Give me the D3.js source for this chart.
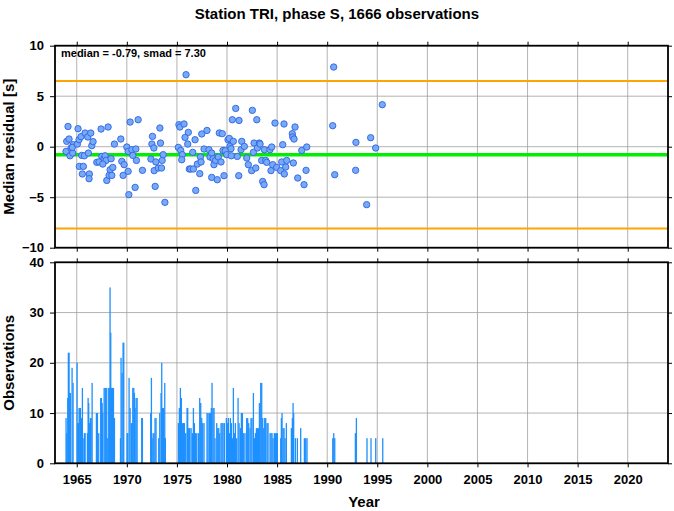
<!DOCTYPE html>
<html><head><meta charset="utf-8">
<script src="https://cdn.jsdelivr.net/npm/d3@7"></script>
<style>body{margin:0;background:#fff}svg{display:block}text{font-family:"Liberation Sans",Arial,Helvetica,sans-serif;font-weight:bold}</style>
</head><body>
<script>
const title = "Station TRI, phase S, 1666 observations";
const medianValue = -0.79, smadValue = 7.30;
const yearTicks = [1965,1970,1975,1980,1985,1990,1995,2000,2005,2010,2015,2020];
const residTicks = [-10,-5,0,5,10];
const countTicks = [0,10,20,30,40];

const ptYears = [1964.13,1964.0,1964.23,1963.93,1964.33,1964.43,1964.6,1964.66,1964.56,1965.13,1965.06,1965.23,1965.43,1965.26,1965.5,1965.66,1965.76,1965.56,1965.83,1966.1,1966.16,1966.26,1966.23,1966.4,1966.5,1966.63,1967.0,1967.43,1967.23,1967.5,1967.73,1968.0,1968.13,1967.83,1967.93,1967.6,1968.33,1968.23,1968.5,1968.43,1968.6,1968.76,1969.4,1969.5,1969.63,1969.73,1970.0,1970.13,1970.2,1970.33,1970.13,1970.5,1970.6,1970.83,1970.9,1970.96,1971.13,1971.56,1972.4,1972.56,1972.5,1972.7,1972.73,1972.83,1972.9,1973.15,1973.3,1973.36,1973.46,1973.53,1973.63,1973.8,1975.2,1975.3,1975.14,1975.38,1975.54,1975.48,1975.71,1975.81,1975.91,1976.14,1976.08,1976.24,1976.38,1976.58,1976.64,1976.81,1976.88,1977.04,1977.28,1977.34,1977.41,1977.48,1977.71,1978.0,1978.2,1978.3,1978.47,1978.47,1978.63,1978.7,1978.87,1979.03,1979.13,1979.23,1979.4,1979.53,1979.6,1979.7,1979.83,1979.97,1980.1,1980.23,1980.3,1980.4,1980.43,1980.53,1980.63,1980.87,1981.03,1981.17,1981.2,1981.4,1981.47,1981.73,1981.97,1982.13,1982.53,1982.46,1982.63,1982.7,1982.87,1982.97,1983.03,1983.23,1983.3,1983.46,1983.56,1983.7,1983.73,1983.86,1983.96,1984.29,1984.46,1984.39,1984.56,1984.79,1984.96,1985.36,1985.46,1985.56,1985.69,1985.72,1985.86,1985.96,1986.52,1986.56,1986.62,1986.69,1986.79,1987.06,1987.46,1987.69,1987.89,1987.96,1990.55,1990.75,1990.65,1995.5,1992.87,1994.34,1994.84,1992.84,1993.94];
const ptResid = [2.0,0.53,0.76,-0.47,-0.9,-0.13,-0.63,0.2,-0.07,1.78,0.26,0.7,1.0,-1.95,-0.86,-1.95,-0.9,-2.7,1.35,0.96,-0.63,-2.7,-3.17,1.35,0.1,0.5,-1.55,1.75,-1.5,-0.96,-1.19,-3.34,1.95,-0.9,-1.36,-1.72,-2.28,-2.84,-2.84,-1.19,-2.05,0.26,0.76,-1.45,-2.84,-1.78,-0.03,-0.47,-4.75,2.44,-2.44,-0.3,-0.86,-4.03,-0.23,-1.36,2.67,-2.34,-1.22,1.02,0.26,-0.13,-2.37,-3.93,-1.51,-2.11,1.85,0.36,-2.11,-1.36,-0.79,-5.51,2.18,1.95,-0.07,-0.37,-0.79,-1.29,2.25,0.92,7.13,1.42,0.26,-2.21,-2.21,-0.56,-2.21,0.69,-4.33,-1.72,-2.67,-1.02,-1.51,1.26,-0.23,1.61,-0.3,-1.02,-0.63,-3.04,-1.19,-1.78,-1.36,-3.27,-1.02,1.36,-1.51,1.29,-0.37,-2.87,-0.4,-0.79,0.69,0.82,0.03,-0.2,-0.9,2.67,0.53,3.79,-0.96,-2.87,2.6,-0.3,0.53,0.03,-1.12,-1.78,3.6,-2.37,-0.56,0.36,-2.11,2.67,-0.13,0.36,0.26,-1.36,-3.44,-3.76,-0.3,-1.36,-1.55,-0.3,-0.03,-2.37,-1.78,2.34,-2.05,-2.37,-1.51,0.2,2.25,-2.7,-2.01,-1.36,1.29,0.96,-1.61,0.76,1.95,-3.1,-0.37,-3.76,-2.34,-0.03,2.08,-2.77,7.89,4.16,0.43,0.89,-0.13,-2.34,-5.74];

const barYears = [1963.93,1964.0,1964.10,1964.16,1964.23,1964.30,1964.36,1964.53,1964.63,1965.03,1965.10,1965.16,1965.23,1965.30,1965.36,1965.46,1965.56,1965.63,1965.76,1965.83,1966.06,1966.13,1966.19,1966.26,1966.36,1966.43,1966.53,1966.96,1967.06,1967.19,1967.39,1967.46,1967.53,1967.59,1967.73,1967.83,1967.89,1967.99,1968.09,1968.19,1968.26,1968.32,1968.39,1968.46,1968.56,1968.66,1968.76,1969.36,1969.42,1969.52,1969.62,1969.69,1970.02,1970.09,1970.22,1970.32,1970.45,1970.52,1970.59,1970.69,1970.75,1970.82,1970.92,1971.02,1971.48,1971.55,1972.38,1972.45,1972.52,1972.62,1972.71,1972.81,1972.91,1973.18,1973.28,1973.41,1973.48,1973.54,1973.64,1973.71,1973.78,1973.84,
1975.14,1975.24,1975.34,1975.44,1975.54,1975.64,1975.74,1975.87,1976.01,1976.07,1976.17,1976.27,1976.41,1976.54,1976.64,1976.74,1976.84,1976.97,1977.14,1977.27,1977.37,1977.47,1977.57,1977.70,1978.00,1978.10,1978.23,1978.33,1978.43,1978.50,1978.60,1978.70,1978.80,1978.97,1979.07,1979.17,1979.27,1979.40,1979.50,1979.60,1979.73,1979.93,1980.03,1980.13,1980.23,1980.33,1980.43,1980.53,1980.63,1980.73,1980.83,1980.96,1981.10,1981.20,1981.33,1981.43,1981.53,1981.66,1981.79,1981.96,1982.06,1982.16,1982.29,1982.39,1982.49,1982.63,1982.73,1982.83,1982.93,1983.03,1983.13,1983.23,1983.36,1983.46,1983.56,1983.66,1983.76,1983.86,1983.99,1984.09,1984.29,1984.39,1984.49,1984.59,1984.72,1984.82,1984.92,1985.02,
1985.36,1985.42,1985.49,1985.59,1985.69,1985.79,1985.92,1986.42,1986.52,1986.59,1986.65,1986.82,1987.02,1987.35,1987.72,1987.85,1987.98,1990.55,1990.65,1990.75,1992.81,1992.91,1993.97,1994.37,1994.84,1995.54];
const barCounts = [9,6,13,22,22,14,14,19,16,20,8,8,11,11,11,9,15,5,6,6,6,13,12,8,9,9,16,10,10,6,13,13,12,10,15,15,15,15,5,15,15,35,26,15,15,15,9,5,21,18,24,24,6,6,17,11,8,8,15,15,14,11,13,13,9,9,10,17,5,6,6,9,9,5,10,14,20,11,11,5,16,5,
8,11,15,13,8,8,8,6,11,11,7,7,7,6,11,8,6,6,6,13,12,9,8,8,10,10,10,10,11,16,11,11,5,8,7,7,6,8,8,8,8,9,8,9,6,9,8,5,15,6,8,5,13,8,7,10,10,6,6,9,9,8,7,9,9,14,5,6,7,7,7,12,16,16,9,7,9,9,8,8,6,6,6,5,6,6,6,6,
5,9,10,7,7,5,8,7,9,12,10,5,5,7,5,5,5,5,6,5,6,9,5,5,5,5];

const W = 674, H = 511;
const L = 55, R = 668;
const top1 = 45.7, bot1 = 247.7, top2 = 262.3, bot2 = 463.3;
const svg = d3.select("body").append("svg").attr("width", W).attr("height", H);

const x = d3.scaleLinear().domain([1962.83, 2024.02]).range([L, R]);
const y1 = d3.scaleLinear().domain([-10, 10]).range([bot1, top1]);
const y2 = d3.scaleLinear().domain([0, 40]).range([bot2, top2]);

const gridColor = "#a0a0a0";
function panel(y, yt, top, bot){
  const g = svg.append("g");
  g.selectAll(".vg").data(yearTicks).join("line")
    .attr("x1", d=>x(d)).attr("x2", d=>x(d)).attr("y1", top).attr("y2", bot)
    .attr("stroke", gridColor).attr("stroke-width", 0.8);
  g.selectAll(".hg").data(yt).join("line")
    .attr("x1", L).attr("x2", R).attr("y1", d=>y(d)).attr("y2", d=>y(d))
    .attr("stroke", gridColor).attr("stroke-width", 0.8);
  return g;
}
function frame(y, yt, top, bot, labelBottom){
  const g = svg.append("g");
  g.append("g").attr("transform", `translate(${L},0)`)
    .call(d3.axisLeft(y).tickValues(yt).tickSize(5).tickPadding(6))
    .call(a=>{a.select(".domain").remove(); a.selectAll("text").attr("font-size",13).attr("fill","#000");});
  g.append("g").attr("transform", `translate(${R},0)`)
    .call(d3.axisRight(y).tickValues(yt).tickSize(4).tickFormat(""))
    .call(a=>a.select(".domain").remove());
  g.append("g").attr("transform", `translate(0,${top})`)
    .call(d3.axisTop(x).tickValues(yearTicks).tickSize(4).tickFormat(""))
    .call(a=>a.select(".domain").remove());
  g.append("g").attr("transform", `translate(0,${bot})`)
    .call(d3.axisBottom(x).tickValues(yearTicks).tickSize(4).tickPadding(7).tickFormat(labelBottom ? d3.format("d") : ""))
    .call(a=>{a.select(".domain").remove(); a.selectAll("text").attr("font-size",13).attr("fill","#000");});
  g.append("rect").attr("x", L).attr("y", top).attr("width", R-L).attr("height", bot-top)
    .attr("fill","none").attr("stroke","#000").attr("stroke-width",1.8);
}

// Top panel
panel(y1, residTicks, top1, bot1);
const gp = svg.append("g");
[medianValue + smadValue, medianValue - smadValue].forEach(v=>{
  gp.append("line").attr("x1", L).attr("x2", R).attr("y1", y1(v)).attr("y2", y1(v))
    .attr("stroke", "#ffa500").attr("stroke-width", 2);
});
gp.append("line").attr("x1", L).attr("x2", R).attr("y1", y1(medianValue)).attr("y2", y1(medianValue))
  .attr("stroke", "#00ee00").attr("stroke-width", 3.5);
gp.selectAll("circle").data(ptYears.map((d,i)=>[d, ptResid[i]])).join("circle")
  .attr("cx", d=>x(d[0])).attr("cy", d=>y1(d[1])).attr("r", 3.2)
  .attr("fill", "#77aaf4").attr("stroke", "#2f62e6").attr("stroke-width", 0.9);
frame(y1, residTicks, top1, bot1, false);
svg.append("text").attr("x", 61).attr("y", 57).attr("font-size", 11).text(`median = ${medianValue.toFixed(2)}, smad = ${smadValue.toFixed(2)}`);

// Bottom panel
panel(y2, countTicks, top2, bot2);
svg.append("g").selectAll("rect").data(barYears.map((d,i)=>[d, barCounts[i]])).join("rect")
  .attr("x", d=>x(d[0]) - 0.6).attr("width", 1.3)
  .attr("y", d=>y2(d[1])).attr("height", d=>y2(0)-y2(d[1]))
  .attr("fill", "#1e90ff");
frame(y2, countTicks, top2, bot2, true);

// Titles
svg.append("text").attr("x", 337).attr("y", 19).attr("text-anchor","middle").attr("font-size", 15).text(title);
svg.append("text").attr("transform", `translate(14,${(top1+bot1)/2}) rotate(-90)`).attr("text-anchor","middle").attr("font-size", 15).text("Median residual [s]");
svg.append("text").attr("transform", `translate(14,${(top2+bot2)/2}) rotate(-90)`).attr("text-anchor","middle").attr("font-size", 15).text("Observations");
svg.append("text").attr("x", 364).attr("y", 507).attr("text-anchor","middle").attr("font-size", 15).text("Year");
</script>
</body></html>
